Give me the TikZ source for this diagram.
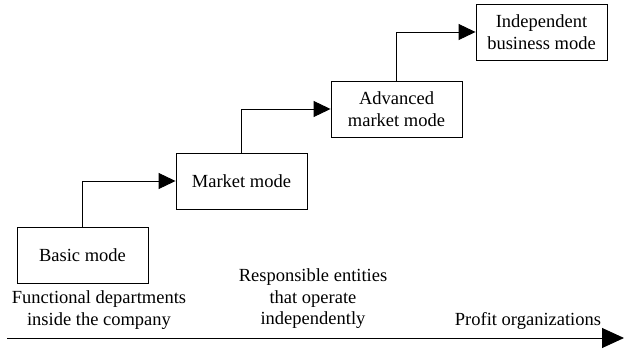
\documentclass[tikz,border=0pt]{standalone}
\usepackage{fontspec}
\setmainfont{Liberation Serif}
\usetikzlibrary{arrows.meta}

\begin{document}
\begin{tikzpicture}[x=1pt,y=-1pt,
		modebox/.style={draw,line width=0.9pt,minimum width=131pt,minimum height=56pt,align=center,inner sep=2pt,font=\fontsize{18.5}{21.5}\selectfont},
		stagelabel/.style={align=center,inner sep=0pt,font=\fontsize{18.5}{21.5}\selectfont},
		stairarrow/.style={line width=0.9pt,-{Triangle[length=17pt,width=16pt]}}]
		\useasboundingbox (0,0) rectangle (624,358);
		\node[modebox] (basic) at (82.5,255.5) {Basic mode};
		\node[modebox] (market) at (241.5,181) {Market mode};
		\node[modebox] (advanced) at (396.5,109) {Advanced\\market mode};
		\node[modebox] (independent) at (541.5,32) {Independent\\business mode};
		\path[stairarrow]
		(basic.north) edge[to path={|- (\tikztotarget)}] (market.west)
		(market.north) edge[to path={|- (\tikztotarget)}] (advanced.west)
		(advanced.north) edge[to path={|- (\tikztotarget)}] (independent.west);
		% axis
		\coordinate (axstart) at (7,338);
		\coordinate (axend) at (624,338);
		\draw[line width=0.9pt,-{Triangle[length=22pt,width=20pt]}] (axstart) -- (axend);
		\node[stagelabel] (functional) at (99,310) {Functional departments\\inside the company};
		\node[stagelabel] (responsible) at (313,299) {Responsible entities\\that operate\\independently};
		\node[stagelabel] (profit) at (528,321) {Profit organizations};
	\end{tikzpicture}
\end{document}
